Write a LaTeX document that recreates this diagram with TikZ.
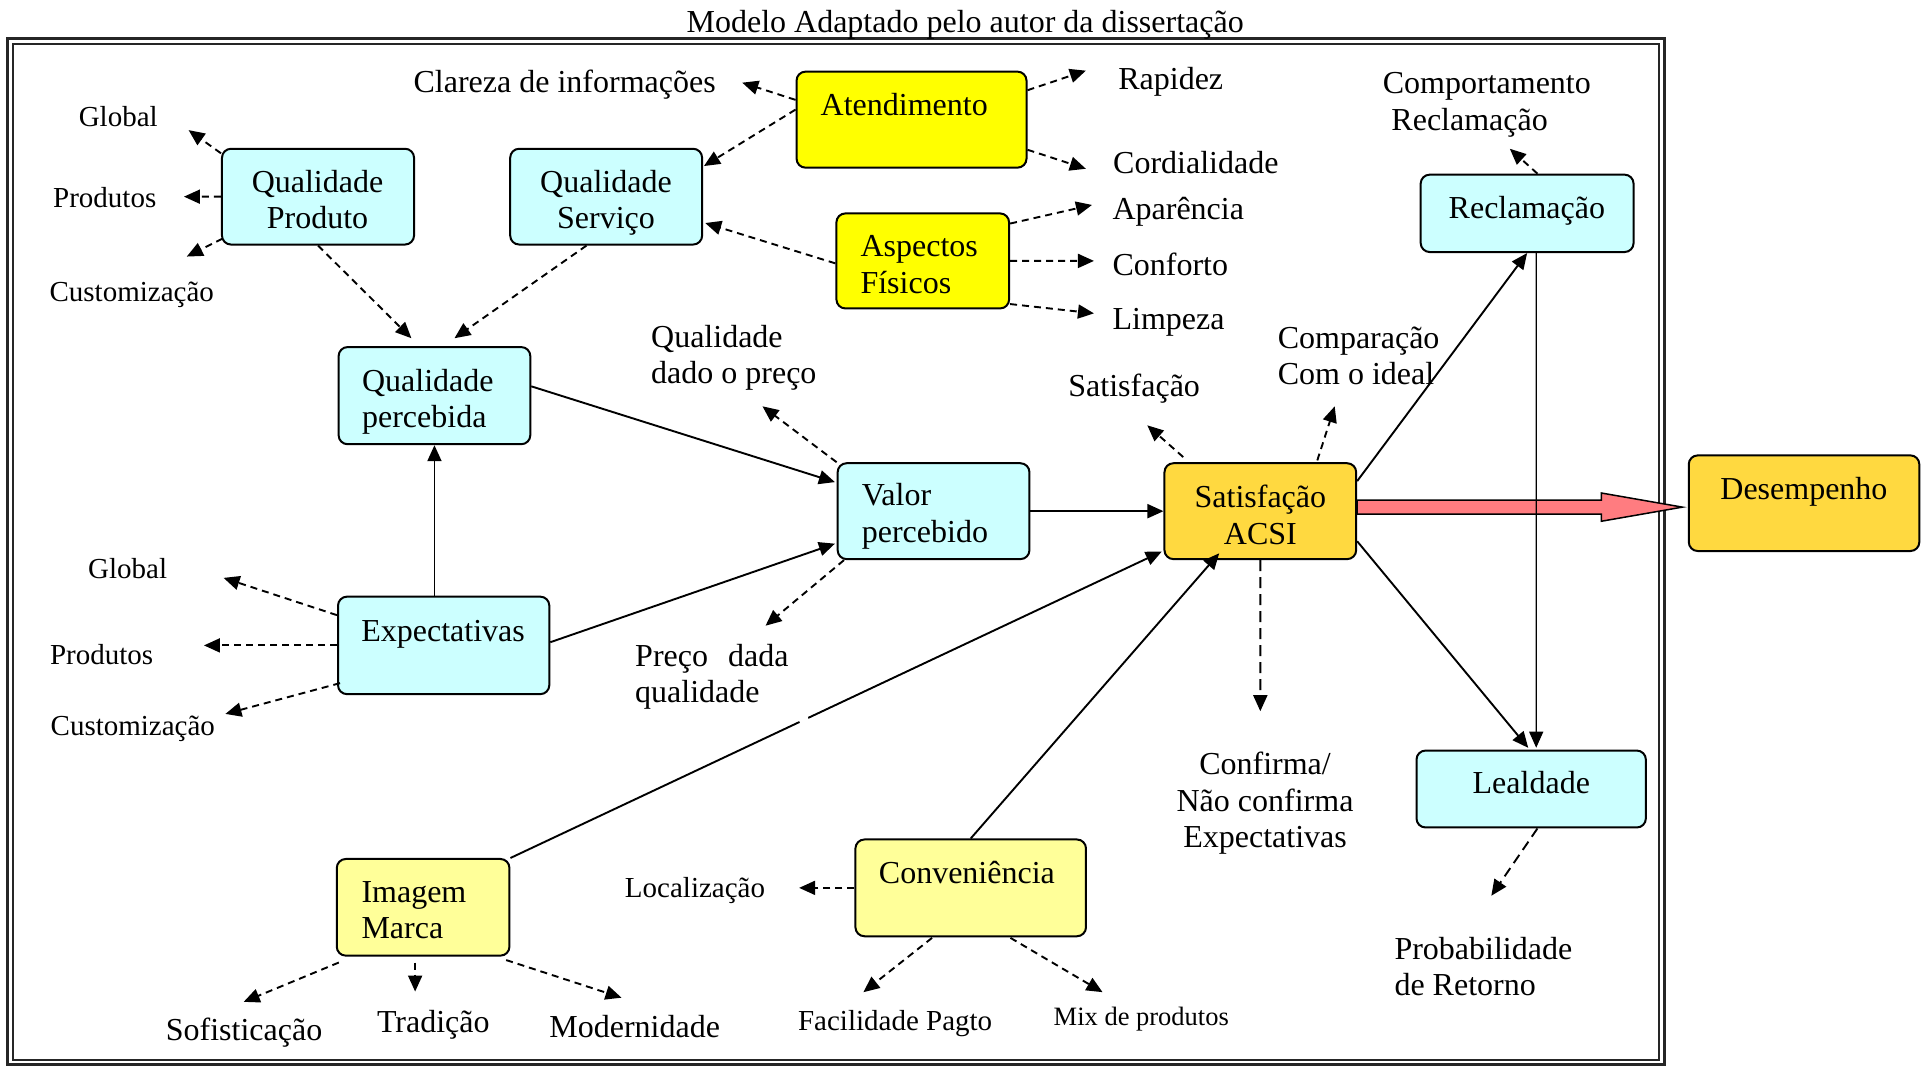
\documentclass[tikz,border=0pt]{standalone}
\usepackage{fontspec}
\setmainfont{Liberation Serif}
\usetikzlibrary{arrows.meta,calc,fit}
\newcommand{\fbig}{\fontsize{32}{36.5}\selectfont}
\newcommand{\fsmall}{\fontsize{29}{34}\selectfont}
\newcommand{\fmix}{\fontsize{26.5}{31}\selectfont}
\newcommand{\mlines}[2]{\begin{tabular}[t]{@{}#1@{}}#2\end{tabular}}
\definecolor{boxcyan}{HTML}{CCFFFF}
\definecolor{boxyellow}{HTML}{FFFF00}
\definecolor{boxpale}{HTML}{FFFF99}
\definecolor{boxgold}{HTML}{FFD940}
\definecolor{arrowrose}{HTML}{FF7C80}
\begin{document}
\begin{tikzpicture}[x=1.2264pt,y=-1.2264pt,
  box/.style={draw=black, line width=2pt, rounded corners=9pt, inner sep=0pt},
  lbl/.style={inner sep=0pt, font=\fbig, yshift=-1.3pt},
  slbl/.style={inner sep=0pt, font=\fsmall, yshift=-1.3pt},
  darr/.style={line width=1.9pt, dash pattern=on 7pt off 5pt, -{Triangle[length=16pt,width=14pt]}},
  sarr/.style={line width=1.9pt, -{Triangle[length=16pt,width=14pt]}},
]
\useasboundingbox (0,0) rectangle (1568,869);

% double frame
\draw[line width=3pt, black!85] (6.1,31) rectangle (1357.2,867.6);
\draw[line width=1.8pt, black!85] (10.5,35.9) rectangle (1352.8,864);

% title
\node[lbl, anchor=base] (title) at (787,25.5) {Modelo Adaptado pelo autor da disserta\c{c}\~ao};

% boxes
\node[box, fill=boxcyan, fit={(181,121.3) (337.6,199.4)}] (qp) {};
\node[box, fill=boxcyan, fit={(416,121.3) (572.5,199.4)}] (qs) {};
\node[box, fill=boxyellow, fit={(649.5,58.4) (837,136.7)}] (at) {};
\node[box, fill=boxyellow, fit={(682,174) (822.8,251.5)}] (af) {};
\node[box, fill=boxcyan, fit={(276.1,283) (432.4,362.2)}] (qpe) {};
\node[box, fill=boxcyan, fit={(683,377.7) (839.4,455.9)}] (vp) {};
\node[box, fill=boxgold, fit={(949.5,377.7) (1105.8,455.9)}] (acsi) {};
\node[box, fill=boxgold, fit={(1377,371.3) (1565,449.3)}] (des) {};
\node[box, fill=boxcyan, fit={(1158.4,142.4) (1332,205.5)}] (rec) {};
\node[box, fill=boxcyan, fit={(1155,612) (1342,674.7)}] (lea) {};
\node[box, fill=boxcyan, fit={(275.6,486.5) (447.9,566)}] (exp) {};
\node[box, fill=boxpale, fit={(274.6,700.4) (415.4,779.2)}] (img) {};
\node[box, fill=boxpale, fit={(697.5,684.5) (885.5,763.4)}] (conv) {};

% box texts
\node[lbl, anchor=base] (qp-t) at (258.9,155.8) {\mlines{c}{Qualidade\\Produto}};
\node[lbl, anchor=base] (qs-t) at (494.1,155.8) {\mlines{c}{Qualidade\\Servi\c{c}o}};
\node[lbl, anchor=base west] (at-t) at (669,93.2) {Atendimento};
\node[lbl, anchor=base west] (af-t) at (701.5,208.3) {\mlines{l}{Aspectos\\F\'isicos}};
\node[lbl, anchor=base west] (qpe-t) at (295.1,318.1) {\mlines{l}{Qualidade\\percebida}};
\node[lbl, anchor=base west] (vp-t) at (702.6,411.4) {\mlines{l}{Valor\\percebido}};
\node[lbl, anchor=base] (acsi-t) at (1027.7,412.8) {\mlines{c}{Satisfa\c{c}\~ao\\ACSI}};
\node[lbl, anchor=base] (des-t) at (1470.9,406.6) {Desempenho};
\node[lbl, anchor=base] (rec-t) at (1245,177.5) {Reclama\c{c}\~ao};
\node[lbl, anchor=base] (lea-t) at (1248.6,646.3) {Lealdade};
\node[lbl, anchor=base] (exp-t) at (361.3,521.9) {Expectativas};
\node[lbl, anchor=base west] (img-t) at (294.6,734.6) {\mlines{l}{Imagem\\Marca}};
\node[lbl, anchor=base west] (conv-t) at (716.5,719.3) {Conveni\^encia};

% free labels
\node[lbl, anchor=base] (clareza) at (460.4,74.4) {Clareza de informa\c{c}\~oes};
\node[lbl, anchor=base] (rapidez) at (954.6,71.6) {Rapidez};
\node[lbl, anchor=base] (cordial) at (975.1,140.4) {Cordialidade};
\node[lbl, anchor=base west] (aparencia) at (907,178.3) {Apar\^encia};
\node[lbl, anchor=base west] (conforto) at (907,223.8) {Conforto};
\node[lbl, anchor=base west] (limpeza) at (907,268) {Limpeza};
\node[lbl, anchor=base west] (comport) at (1127.4,75.2) {\mlines{l}{Comportamento\\\hspace{8.6pt}Reclama\c{c}\~ao}};
\node[lbl, anchor=base west] (qdpreco) at (530.8,282.2) {\mlines{l}{Qualidade\\dado o pre\c{c}o}};
\node[lbl, anchor=base] (satlbl) at (924.8,322.3) {Satisfa\c{c}\~ao};
\node[lbl, anchor=base west] (compar) at (1041.7,283) {\mlines{l}{Compara\c{c}\~ao\\Com o ideal}};
\node[lbl, anchor=base west] (pdqual) at (517.8,542.2) {\mlines{l}{Pre\c{c}o\hspace{20pt}dada\\qualidade}};
\node[lbl, anchor=base] (confirma) at (1031.5,630.6) {\mlines{c}{Confirma/\\N\~ao confirma\\Expectativas}};
\node[lbl, anchor=base west] (prob) at (1136.9,781.1) {\mlines{l}{Probabilidade\\de Retorno}};
\node[lbl, anchor=base] (sofist) at (199,847.5) {Sofistica\c{c}\~ao};
\node[lbl, anchor=base] (tradicao) at (353.3,840.6) {Tradi\c{c}\~ao};
\node[lbl, anchor=base] (modern) at (517.5,844.8) {Modernidade};
\node[slbl, anchor=base] (global1) at (96.4,101.7) {Global};
\node[slbl, anchor=base] (produtos1) at (85.4,167.9) {Produtos};
\node[slbl, anchor=base] (custom1) at (107.4,244.8) {Customiza\c{c}\~ao};
\node[slbl, anchor=base] (global2) at (104.1,470.4) {Global};
\node[slbl, anchor=base] (produtos2) at (82.9,540.9) {Produtos};
\node[slbl, anchor=base] (custom2) at (108.3,598.8) {Customiza\c{c}\~ao};
\node[slbl, anchor=base] (local) at (566.7,730.4) {Localiza\c{c}\~ao};
\node[slbl, anchor=base west] (facil) at (650.6,839.1) {Facilidade Pagto};
\node[inner sep=0pt, font=\fmix, anchor=base, yshift=-1.3pt] (mix) at (930.6,835) {Mix de produtos};

% free ends of the dashed connectors
\coordinate (g1t) at (153.8,106.1);
\coordinate (p1t) at (150,160.35);
\coordinate (c1t) at (152.3,209.2);
\coordinate (clt) at (605.2,67.4);
\coordinate (rpt) at (885.4,57.6);
\coordinate (cdt) at (885.4,137.6);
\coordinate (apt) at (890.4,167.1);
\coordinate (cft) at (892,212.75);
\coordinate (lpt) at (892,255.5);
\coordinate (crt) at (1231.1,121.3);
\coordinate (qdt) at (621.7,331.3);
\coordinate (pdt) at (624.2,510.2);
\coordinate (stt) at (935.5,346.8);
\coordinate (cmt) at (1088.3,331.3);
\coordinate (cnt) at (1027.65,579.9);
\coordinate (prt) at (1216,730.4);
\coordinate (g2t) at (182.3,471.2);
\coordinate (p2t) at (166.3,526.25);
\coordinate (c2t) at (183.8,582.1);
\coordinate (sft) at (198.7,816.9);
\coordinate (trt) at (338.5,808.5);
\coordinate (mdt) at (506.8,813.5);
\coordinate (lct) at (651.6,723.95);
\coordinate (fct) at (704,809);
\coordinate (mxt) at (899,809);

% dashed connectors
\draw[darr] ($(qp.north west)+(0,4.5)$) -- (g1t);
\draw[darr] (qp.west) -- (p1t);
\draw[darr] ($(qp.south west)+(1.3,-5.7)$) -- (c1t);
\draw[darr] (qp.south) -- ($(qpe.north)+(-18.8,-6.4)$);
\draw[darr] ($(qs.south)+(-16,0)$) -- ($(qpe.north)+(16.3,-6.4)$);
\draw[darr] ($(at.west)+(0,-16.1)$) -- (clt);
\draw[darr] ($(at.west)+(0,-8.2)$) -- ($(qs.north east)+(0.7,14.9)$);
\draw[darr] ($(at.north east)+(0,16)$) -- (rpt);
\draw[darr] ($(at.south east)+(0,-15.4)$) -- (cdt);
\draw[darr] ($(af.west)+(0,2)$) -- ($(qs.east)+(1.7,21.5)$);
\draw[darr] ($(af.north east)+(0,9.1)$) -- (apt);
\draw[darr] (af.east) -- (cft);
\draw[darr] ($(af.south east)+(0,-4.4)$) -- (lpt);
\draw[darr] ($(rec.north)+(8.4,0)$) -- (crt);
\draw[darr] (vp.north west) -- (qdt);
\draw[darr] ($(vp.south west)+(6,0)$) -- (pdt);
\draw[darr] ($(acsi.north west)+(16.1,-4.2)$) -- (stt);
\draw[darr] ($(acsi.north east)+(-32.5,-1.5)$) -- (cmt);
\draw[darr, dash pattern=on 11pt off 6pt] (acsi.south) -- (cnt);
\draw[darr, dash pattern=on 10pt off 6pt] ($(lea.south)+(5.1,0)$) -- (prt);
\draw[darr] ($(exp.north west)+(0,15.9)$) -- (g2t);
\draw[darr] (exp.west) -- (p2t);
\draw[darr] ($(exp.south west)+(2.5,-9.8)$) -- (c2t);
\draw[darr] ($(img.south west)+(2.5,4.8)$) -- (sft);
\draw[darr] ($(img.south)+(-6.5,4.8)$) -- (trt);
\draw[darr] ($(img.south east)+(-3.5,2.8)$) -- (mdt);
\draw[darr] (conv.west) -- (lct);
\draw[darr] ($(conv.south)+(-31.5,0.5)$) -- (fct);
\draw[darr] ($(conv.south)+(32.4,0.5)$) -- (mxt);

% solid connectors
\draw[sarr] ($(qpe.east)+(0,-7.6)$) -- ($(vp.west)+(-1.4,-23.7)$);
\draw[sarr] (qpe.south |- exp.north) -- (qpe.south);
\draw[sarr] ($(exp.east)+(0,-2.6)$) -- ($(vp.west)+(-1.4,26.5)$);
\draw[sarr] (vp.east) -- (acsi.west);
\draw[sarr] (img.north east) -- ($(acsi.south west)+(-1.4,-7)$)
  coordinate[pos=0.444] (gapa) coordinate[pos=0.457] (gapb);
\draw[white, line width=4pt] (gapa) -- (gapb);
\draw[sarr] (conv.north) -- ($(acsi.south)+(-33.5,-5.6)$);
\draw[sarr] ($(acsi.north east)+(0,15.4)$) -- (rec.south);
\draw[sarr] ($(acsi.south east)+(0,-15.4)$) -- ($(lea.north)+(-2.4,-1.4)$);

% block arrow towards Desempenho
\draw[line width=1.5pt, fill=arrowrose, line join=miter]
  ($(acsi.east)+(0,-9)$) -- ++(199.2,0) -- ++(0,-5.8) -- ++(66,11.5)
  -- ++(-66,11.5) -- ++(0,-5.8) -- ($(acsi.east)+(0,2.4)$) -- cycle;

% thin link from Reclamacao to Lealdade
\draw[line width=1.2pt, -{Triangle[length=16pt,width=14pt]}]
  ($(rec.south)+(7.4,0)$) -- ($(lea.north)+(4.1,-1.5)$);
\end{tikzpicture}
\end{document}
